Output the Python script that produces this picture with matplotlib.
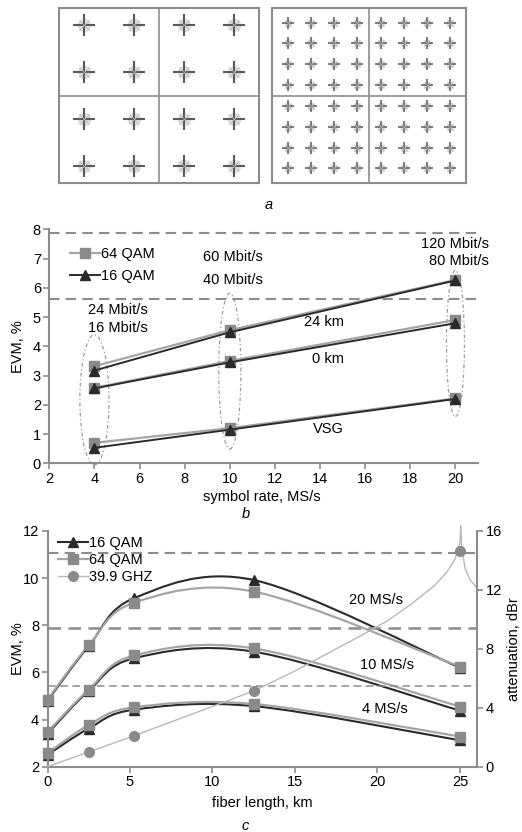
import numpy as np
import matplotlib
matplotlib.use("Agg")
import matplotlib.pyplot as plt
from matplotlib.path import Path
from matplotlib.patches import PathPatch, Ellipse
from matplotlib.lines import Line2D

plt.rcParams.update({
    'font.family': ['Liberation Sans', 'DejaVu Sans'],
    'font.size': 10.5,
})

# ---- panel a: constellation grid positions ----
qam16_pos = [0.5, 1.5, 2.5, 3.5]
qam64_pos = [0.5, 1.5, 2.5, 3.5, 4.5, 5.5, 6.5, 7.5]

# ---- panel b: EVM vs symbol rate ----
b_rate = [4, 10, 20]
b_64qam_24km = [3.32, 4.55, 6.27]
b_16qam_24km = [3.17, 4.48, 6.25]
b_64qam_0km = [2.58, 3.50, 4.90]
b_16qam_0km = [2.56, 3.45, 4.79]
b_64qam_vsg = [0.70, 1.20, 2.22]
b_16qam_vsg = [0.53, 1.15, 2.20]
b_limits = [7.87, 5.62]

# ---- panel c: EVM vs fiber length ----
c_len = [0, 2.5, 5.25, 12.5, 25]
c_16qam_20 = [4.80, 7.12, 9.15, 9.92, 6.20]
c_64qam_20 = [4.85, 7.15, 8.96, 9.43, 6.25]
c_16qam_10 = [3.40, 5.22, 6.60, 6.88, 4.38]
c_64qam_10 = [3.47, 5.27, 6.72, 7.02, 4.55]
c_16qam_4 = [2.50, 3.62, 4.42, 4.57, 3.12]
c_64qam_4 = [2.57, 3.77, 4.52, 4.66, 3.28]
c_limits = [11.05, 7.87, 5.42]

# attenuation of 39.9 GHz carrier (right axis)
att_len = [0, 2.5, 5.25, 12.5, 15, 17, 19, 20.6, 22, 23.4, 24.2, 24.7, 25.0, 25.05, 25.1, 25.3, 25.6, 26.05]
att_db = [0, 1.0, 2.1, 5.14, 6.5, 7.7, 8.9, 9.9, 11.0, 12.24, 13.2, 14.1, 15.2, 16.4, 15.0, 13.5, 12.7, 12.1]
att_mark_len = [2.5, 5.25, 12.5, 25]
att_mark_db = [1.0, 2.1, 5.14, 14.67]

DARK = '#2a2a2a'
LIGHT = '#a5a5a5'
MARK_LIGHT = '#8a8a8a'
GRID = '#8c8c8c'

W, H = 522, 832
fig = plt.figure(figsize=(W / 100, H / 100), dpi=100)


def px_axes(x0, y0, x1, y1):
    return fig.add_axes([x0 / W, 1 - y1 / H, (x1 - x0) / W, (y1 - y0) / H])


def smooth_path(xs, ys):
    """Excel-like smoothed line through the points (cubic Bezier)."""
    pts = np.column_stack([xs, ys]).astype(float)
    ext = np.vstack([pts[0], pts, pts[-1]])
    verts = [pts[0]]
    codes = [Path.MOVETO]
    for i in range(len(pts) - 1):
        p0, p1, p2, p3 = ext[i], ext[i + 1], ext[i + 2], ext[i + 3]
        verts += [p1 + (p2 - p0) / 6, p2 - (p3 - p1) / 6, p2]
        codes += [Path.CURVE4] * 3
    return Path(verts, codes)


def style_axes(ax):
    for s in ['top', 'right']:
        ax.spines[s].set_visible(False)
    for s in ['left', 'bottom']:
        ax.spines[s].set_color(GRID)
        ax.spines[s].set_linewidth(1.5)
    ax.tick_params(direction='out', length=4, width=1.2, color=GRID, pad=2, labelsize=10.5)


# ---------------- panel a ----------------
def constellation(ax, pos, lim, ms, mew):
    gx, gy = np.meshgrid(pos, pos)
    ax.plot(gx.ravel(), gy.ravel(), ls='none', marker='o', ms=ms * 0.55,
            color='#d0d0d0', alpha=0.6)
    ax.plot(gx.ravel(), gy.ravel(), ls='none', marker='+', ms=ms,
            mew=mew, color='#5a5a5a')
    ax.plot(gx.ravel(), gy.ravel(), ls='none', marker='x', ms=ms * 0.45,
            mew=0.6, color='#b5b5b5')
    mid = (lim[0] + lim[1]) / 2
    ax.axvline(mid, color=GRID, lw=1.2)
    ax.axhline(mid, color=GRID, lw=1.2)
    ax.set_xlim(lim)
    ax.set_ylim(lim)
    ax.set_xticks([])
    ax.set_yticks([])
    for s in ax.spines.values():
        s.set_color(GRID)
        s.set_linewidth(1.5)


ax_a1 = px_axes(59, 8, 259, 183)
constellation(ax_a1, qam16_pos, (0.0, 4.0), 16, 1.5)
ax_a1.set_ylim(0.14, 3.86)
ax_a2 = px_axes(272, 8, 466, 183)
constellation(ax_a2, qam64_pos, (-0.2, 8.2), 9, 1.1)
fig.text(269 / W, 1 - 205 / H, 'a', ha='center', va='center', style='italic', fontsize=10.5)

# ---------------- panel b ----------------
ax_b = px_axes(49.3, 229.3, 478, 463.3)
style_axes(ax_b)
ax_b.set_xlim(2, 21)
ax_b.set_ylim(0, 8)
ax_b.set_xticks(range(2, 21, 2))
ax_b.set_yticks(range(0, 9))
for lvl in b_limits:
    ax_b.axhline(lvl, color=GRID, lw=1.5, ls=(0, (5, 3)), clip_on=False)

for cx, cy, ew, eh in [(4, 2.17, 1.29, 4.45), (10, 3.15, 0.98, 5.33), (20, 4.1, 0.8, 5.0)]:
    ax_b.add_patch(Ellipse((cx, cy), ew, eh, fill=False, edgecolor='#9a9a9a',
                           lw=0.9, ls=(0, (3, 2, 1, 2)), clip_on=False))

for y64, y16 in [(b_64qam_24km, b_16qam_24km), (b_64qam_0km, b_16qam_0km),
                 (b_64qam_vsg, b_16qam_vsg)]:
    ax_b.plot(b_rate, y64, color=LIGHT, lw=1.6, marker='s', ms=7,
              mfc=MARK_LIGHT, mec=MARK_LIGHT, clip_on=False)
    ax_b.plot(b_rate, y16, color=DARK, lw=1.4, marker='^', ms=7,
              mfc=DARK, mec=DARK, clip_on=False)

b_handles = [Line2D([], [], color=LIGHT, lw=1.6, marker='s', ms=7, mfc=MARK_LIGHT, mec=MARK_LIGHT),
             Line2D([], [], color=DARK, lw=1.4, marker='^', ms=7, mfc=DARK, mec=DARK)]
ax_b.legend(b_handles, ['64 QAM', '16 QAM'], loc='upper left', bbox_to_anchor=(0.048, 0.925),
            frameon=False, borderpad=0, borderaxespad=0, handlelength=2.05,
            handletextpad=0.1, labelspacing=0.55, fontsize=10.5)

ax_b.text(5.05, 5.24, '24 Mbit/s', ha='center', va='center')
ax_b.text(5.05, 4.62, '16 Mbit/s', ha='center', va='center')
ax_b.text(10.16, 7.05, '60 Mbit/s', ha='center', va='center')
ax_b.text(10.16, 6.27, '40 Mbit/s', ha='center', va='center')
ax_b.text(21.5, 7.5, '120 Mbit/s', ha='right', va='center')
ax_b.text(21.5, 6.9, '80 Mbit/s', ha='right', va='center')
ax_b.text(14.17, 4.84, '24 km', ha='center', va='center')
ax_b.text(14.36, 3.55, '0 km', ha='center', va='center')
ax_b.text(14.38, 1.16, 'VSG', ha='center', va='center')

fig.text(18 / W, 1 - 347 / H, 'EVM, %', rotation=90, ha='center', va='center')
fig.text(262 / W, 1 - 497 / H, 'symbol rate, MS/s', ha='center', va='center')
fig.text(246 / W, 1 - 514 / H, 'b', ha='center', va='center', style='italic')

# ---------------- panel c ----------------
ax_c = px_axes(47.5, 531, 477.3, 766.7)
style_axes(ax_c)
ax_c.set_xlim(0, 26.05)
ax_c.set_ylim(2, 12)
ax_c.set_xticks(range(0, 26, 5))
ax_c.set_yticks(range(2, 13, 2))
for lvl, lw in zip(c_limits, [1.5, 1.8, 1.1]):
    ax_c.axhline(lvl, color=GRID, lw=lw, ls=(0, (5, 3)))

for y16, y64 in [(c_16qam_20, c_64qam_20), (c_16qam_10, c_64qam_10), (c_16qam_4, c_64qam_4)]:
    ax_c.add_patch(PathPatch(smooth_path(c_len, y16), fill=False, edgecolor=DARK, lw=1.5))
    ax_c.plot(c_len, y16, ls='none', marker='^', ms=7, mfc=DARK, mec=DARK, clip_on=False)
    ax_c.add_patch(PathPatch(smooth_path(c_len, y64), fill=False, edgecolor=LIGHT, lw=1.6))
    ax_c.plot(c_len, y64, ls='none', marker='s', ms=7, mfc=MARK_LIGHT, mec=MARK_LIGHT, clip_on=False)

ax_c.text(19.9, 9.07, '20 MS/s', ha='center', va='center')
ax_c.text(20.6, 6.31, '10 MS/s', ha='center', va='center')
ax_c.text(20.45, 4.43, '4 MS/s', ha='center', va='center')

ax_c2 = ax_c.twinx()
ax_c2.set_ylim(0, 16)
ax_c2.set_yticks(range(0, 17, 4))
for s in ['top', 'left', 'bottom']:
    ax_c2.spines[s].set_visible(False)
ax_c2.spines['right'].set_color(GRID)
ax_c2.spines['right'].set_linewidth(1.5)
ax_c2.tick_params(direction='out', length=4, width=1.2, color=GRID, pad=2, labelsize=10.5)
ax_c2.plot(att_len, att_db, color='#b8b8b8', lw=1.0, clip_on=False)
ax_c2.plot(att_mark_len, att_mark_db, ls='none', marker='o', ms=7,
           mfc=MARK_LIGHT, mec=MARK_LIGHT, clip_on=False)

c_handles = [Line2D([], [], color=DARK, lw=1.5, marker='^', ms=7, mfc=DARK, mec=DARK),
             Line2D([], [], color=LIGHT, lw=1.6, marker='s', ms=7, mfc=MARK_LIGHT, mec=MARK_LIGHT),
             Line2D([], [], color='#b8b8b8', lw=1.0, marker='o', ms=7, mfc=MARK_LIGHT, mec=MARK_LIGHT)]
ax_c2.legend(c_handles, ['16 QAM', '64 QAM', '39.9 GHZ'], loc='upper left',
             bbox_to_anchor=(0.024, 0.98), frameon=False, borderpad=0, borderaxespad=0,
             handlelength=2.05, handletextpad=0.1, labelspacing=0.22, fontsize=10.5)

fig.text(18 / W, 1 - 649 / H, 'EVM, %', rotation=90, ha='center', va='center')
fig.text(514 / W, 1 - 649 / H, 'attenuation, dBr', rotation=90, ha='center', va='center')
fig.text(262 / W, 1 - 803 / H, 'fiber length, km', ha='center', va='center')
fig.text(245 / W, 1 - 826 / H, 'c', ha='center', va='center', style='italic')

fig.savefig('out.png', dpi=100)
